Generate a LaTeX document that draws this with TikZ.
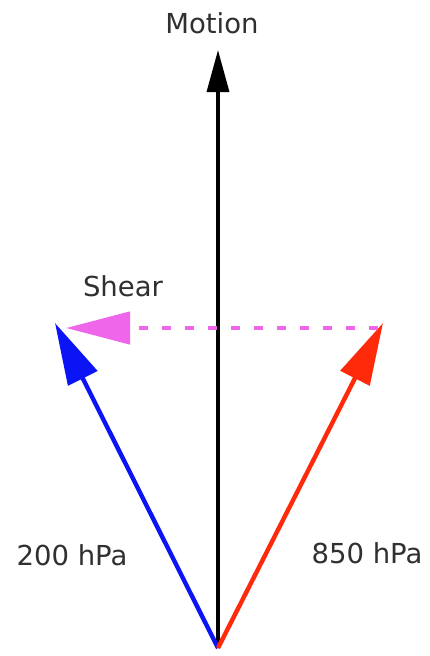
\documentclass[tikz,border=0pt]{standalone}
\usepackage{fontspec}
\setmainfont{DejaVu Sans}
\usetikzlibrary{arrows.meta}
\definecolor{txt}{HTML}{303030}
\definecolor{vblue}{HTML}{0A14F5}
\definecolor{vred}{HTML}{FF2A0A}
\definecolor{vmag}{HTML}{F066EA}
\begin{document}
\begin{tikzpicture}[x=1pt,y=-1pt,
  lbl/.style={text=txt,font=\fontsize{27.5}{32}\selectfont,inner sep=0pt},
  vec/.style={line width=4.4pt},
  ]
\useasboundingbox[fill=white] (0,0) rectangle (430,656);
\coordinate (O) at (218,648);
\coordinate (M) at (218,50);
\coordinate (B) at (55,323);
\coordinate (R) at (383,323);
\coordinate (S1) at (378,328);
\coordinate (S2) at (66,328);
\draw[line width=3.4pt,black,-{Triangle[length=42pt,width=22pt]}] (O) -- (M);
\draw[vec,vblue,-{Triangle[length=62pt,width=32pt]}] (O) -- (B);
\draw[vec,vred,-{Triangle[length=62pt,width=32pt]}] (O) -- (R);
\draw[line width=4.4pt,vmag,dash pattern=on 9pt off 14pt,-{Triangle[length=64pt,width=32pt]}] (S1) -- (S2);
\node[lbl] (tm) at (212,23) {Motion};
\node[lbl] (ts) at (123,286) {Shear};
\node[lbl] (t2) at (72,555) {200 hPa};
\node[lbl] (t8) at (367,553) {850 hPa};
\end{tikzpicture}
\end{document}
